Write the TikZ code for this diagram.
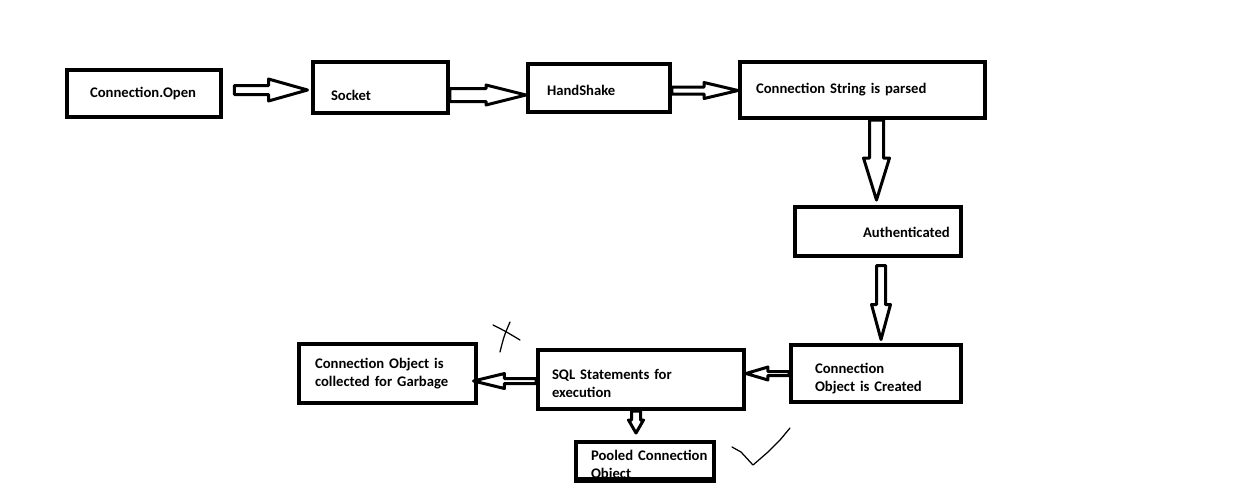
\documentclass[tikz,border=0pt]{standalone}
\usepackage{fontspec}
\setmainfont{Carlito}
\usetikzlibrary{calc}
\tikzset{
    box/.style={rectangle, draw, line width=0.08cm, inner sep=0pt, align=left,
                font=\bfseries\fontsize{8.35pt}{10.24pt}\selectfont},
    lead/.style={execute at begin node={\leftskip=#1}},
    block/.style n args={3}{draw, fill=white, line width=0.06cm, line join=round,
        to path={($(\tikztostart)!#1!90:(\tikztotarget)$)
            -- ($(\tikztotarget)!#3!(\tikztostart)!#1!90:(\tikztotarget)$)
            -- ($(\tikztotarget)!#3!(\tikztostart)!#2!90:(\tikztotarget)$)
            -- (\tikztotarget)
            -- ($(\tikztotarget)!#3!(\tikztostart)!#2!-90:(\tikztotarget)$)
            -- ($(\tikztotarget)!#3!(\tikztostart)!#1!-90:(\tikztotarget)$)
            -- ($(\tikztostart)!#1!-90:(\tikztotarget)$) -- cycle}},
    scribble/.style={line width=0.025cm, line cap=round, line join=round}
}

\begin{document}
\begin{tikzpicture}[x=0.02cm, y=-0.02cm]
  \useasboundingbox (0,0) rectangle (1257,491);
  \node[box, text width=3.08cm, minimum height=0.94cm, lead=0.46cm] (open) at (144,93.5) {Connection.Open};
  \node[box, text width=2.7cm, minimum height=1.02cm, lead=0.36cm, text height=16.8pt, text depth=2pt] (socket) at (380.5,87.5) {Socket};
  \node[box, text width=2.84cm, minimum height=0.96cm, lead=0.38cm, text height=10.6pt, text depth=2pt] (hand) at (599,88) {HandShake};
  \node[box, text width=4.9cm, minimum height=1.12cm, lead=0.32cm] (parse) at (862.5,90) {Connection String is parsed};
  \node[box, text width=3.32cm, minimum height=0.98cm, lead=1.36cm, text height=8.8pt, text depth=2pt] (auth) at (878,231.5) {Authenticated};
  \node[box, text width=3.4cm, minimum height=1.14cm, lead=0.48cm, text height=12.2pt, text depth=12.2pt] (made) at (876,373.5) {Connection\\Object is Created};
  \node[box, text width=4.12cm, minimum height=1.18cm, lead=0.28cm, text height=12.2pt, text depth=12.2pt] (sql) at (641,379.5) {SQL Statements for\\execution};
  \node[box, text width=3.54cm, minimum height=1.18cm, lead=0.32cm] (trash) at (387.5,373.5) {Connection Object is\\collected for Garbage};
  \node[box, text width=2.76cm, minimum height=0.74cm, lead=0.3cm, text height=6pt, text depth=5.6pt] (pool) at (645,460.5) {Pooled Connection\\Object};
  \draw[line width=0.08cm] (pool.south west) -- (pool.south east);

  \draw[block={0.09cm}{0.22cm}{0.78cm}] ([xshift=0.23cm, yshift=0.07cm]open.east) to ([xshift=-0.07cm, yshift=0.07cm]open.east -| socket.west);
  \draw[block={0.13cm}{0.2cm}{0.8cm}] ([yshift=-0.15cm]socket.east) to ([yshift=-0.15cm]socket.east -| hand.west);
  \draw[block={0.07cm}{0.16cm}{0.68cm}] ([yshift=-0.05cm]hand.east) to ([yshift=-0.05cm]hand.east -| parse.west);
  \draw[block={0.14cm}{0.26cm}{0.84cm}] ([xshift=0.28cm]parse.south) to ([xshift=0.28cm, yshift=0.1cm]parse.south |- auth.north);
  \draw[block={0.09cm}{0.19cm}{0.7cm}] ([xshift=0.06cm, yshift=-0.15cm]auth.south) to ([xshift=0.06cm, yshift=0.07cm]auth.south |- made.north);
  \draw[block={0.04cm}{0.13cm}{0.44cm}] (made.west) to (made.west -| sql.east);
  \draw[block={0.05cm}{0.15cm}{0.62cm}] ([yshift=-0.03cm]sql.west) to ([xshift=-0.09cm, yshift=-0.03cm]sql.west -| trash.east);
  \draw[block={0.09cm}{0.15cm}{0.26cm}] ([xshift=-0.1cm]sql.south) to ([xshift=-0.1cm, yshift=0.14cm]sql.south |- pool.north);

  % pen marks
  \draw[scribble] (493,325) .. controls (505,331) .. (520,340);
  \draw[scribble] (510,322) .. controls (504,336) .. (500,352);
  \draw[scribble] (732,447) -- (741,452) -- (753,465) -- (768,452) -- (780,440) -- (790,428);
\end{tikzpicture}
\end{document}
